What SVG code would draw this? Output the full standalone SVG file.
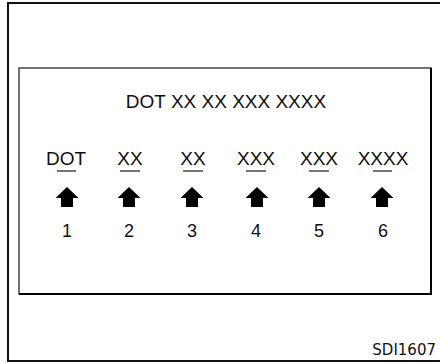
<svg xmlns="http://www.w3.org/2000/svg" width="440" height="364" viewBox="0 0 440 364">
<style>
.t{font-family:"Liberation Sans",Arial,sans-serif;font-size:19px;fill:#111;text-anchor:middle}
.n{font-family:"Liberation Sans",Arial,sans-serif;font-size:18px;fill:#111;text-anchor:middle}
.u{stroke:#555;stroke-width:1.6}
.a{fill:#000}
</style>
<defs>
<path id="arr" d="M0,187 L11.5,198 L6,198 L6,207 L-6,207 L-6,198 L-11.5,198 Z"/>
</defs>
<rect width="440" height="364" fill="#fff"/>
<g id="frame">
<path d="M441,3 L8,3 L8,361 L441,361" fill="none" stroke="#111" stroke-width="2"/>
</g>
<g id="panel">
<rect x="19" y="68" width="412" height="226" fill="none" stroke="#444" stroke-width="1.5"/>
<path d="M431,68 L431,294 L19,294" fill="none" stroke="#000" stroke-width="2"/>
<text class="t" x="226" y="108">DOT XX XX XXX XXXX</text>
</g>
<g id="field1">
<text class="t" x="66" y="165">DOT</text>
<line class="u" x1="57" y1="171" x2="76" y2="171"/>
<use href="#arr" x="67" class="a"/>
<text class="n" x="67" y="237">1</text>
</g>
<g id="field2">
<text class="t" x="130" y="165">XX</text>
<line class="u" x1="120" y1="171" x2="140" y2="171"/>
<use href="#arr" x="129" class="a"/>
<text class="n" x="129" y="237">2</text>
</g>
<g id="field3">
<text class="t" x="193" y="165">XX</text>
<line class="u" x1="183" y1="171" x2="203" y2="171"/>
<use href="#arr" x="192" class="a"/>
<text class="n" x="192" y="237">3</text>
</g>
<g id="field4">
<text class="t" x="256" y="165">XXX</text>
<line class="u" x1="246" y1="171" x2="266" y2="171"/>
<use href="#arr" x="257" class="a"/>
<text class="n" x="256" y="237">4</text>
</g>
<g id="field5">
<text class="t" x="319" y="165">XXX</text>
<line class="u" x1="309" y1="171" x2="329" y2="171"/>
<use href="#arr" x="319" class="a"/>
<text class="n" x="319" y="237">5</text>
</g>
<g id="field6">
<text class="t" x="383" y="165">XXXX</text>
<line class="u" x1="373" y1="171" x2="392" y2="171"/>
<use href="#arr" x="382" class="a"/>
<text class="n" x="383" y="237">6</text>
</g>
<g id="connectors"></g>
<text x="436" y="355" font-family="DejaVu Sans,sans-serif" font-size="15" fill="#111" text-anchor="end">SDI1607</text>
</svg>
